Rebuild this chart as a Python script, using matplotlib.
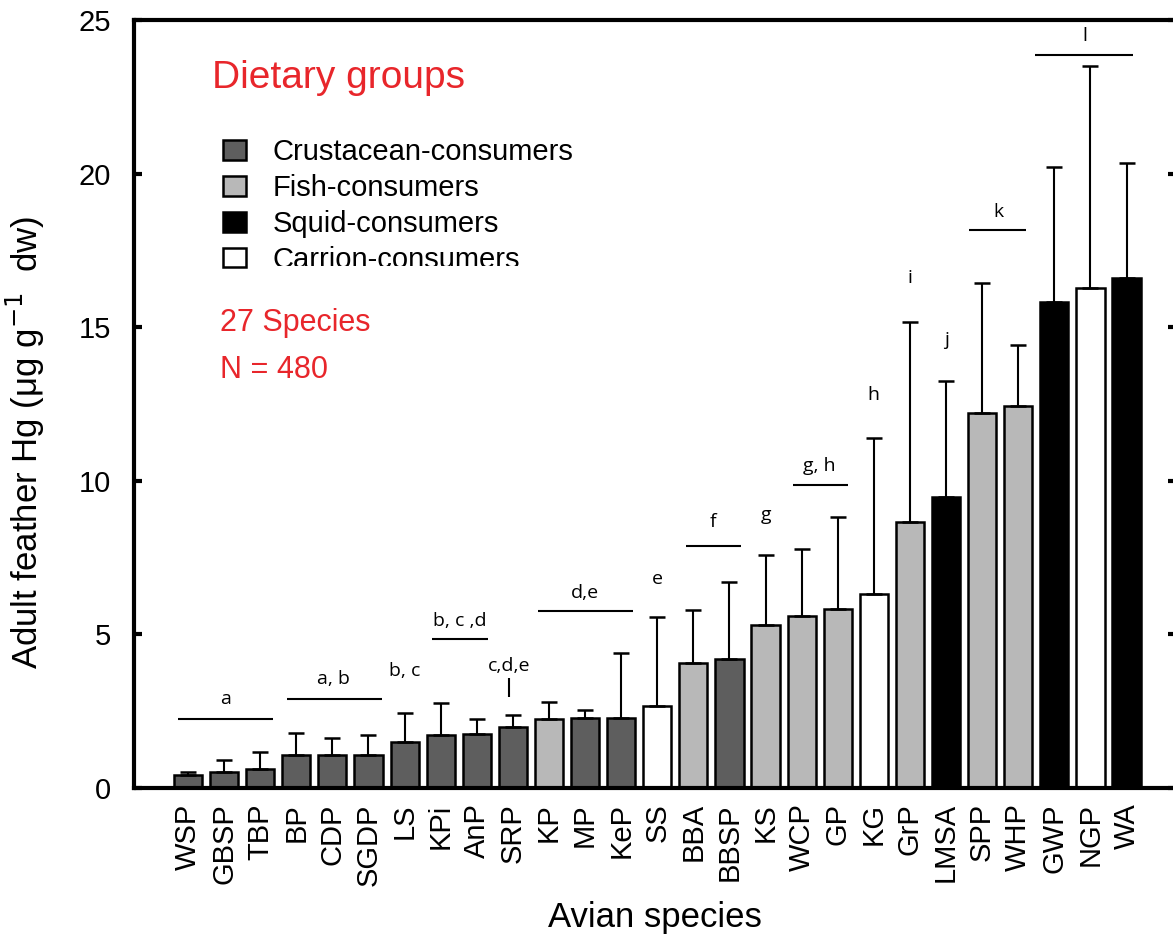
import matplotlib
matplotlib.use('Agg')
import matplotlib.pyplot as plt
from matplotlib.patches import Patch
from matplotlib.transforms import Bbox
import numpy as np

# ---------------- data ----------------
species = ['WSP', 'GBSP', 'TBP', 'BP', 'CDP', 'SGDP', 'LS', 'KPi', 'AnP', 'SRP',
           'KP', 'MP', 'KeP', 'SS', 'BBA', 'BBSP', 'KS', 'WCP', 'GP', 'KG',
           'GrP', 'LMSA', 'SPP', 'WHP', 'GWP', 'NGP', 'WA']
hg_mean = [0.42, 0.51, 0.62, 1.07, 1.07, 1.07, 1.50, 1.72, 1.75, 1.99,
           2.23, 2.28, 2.28, 2.67, 4.06, 4.21, 5.31, 5.60, 5.82, 6.31,
           8.66, 9.47, 12.20, 12.45, 15.82, 16.27, 16.61]
hg_sd = [0.11, 0.41, 0.56, 0.73, 0.55, 0.67, 0.95, 1.05, 0.48, 0.40,
         0.57, 0.27, 2.10, 2.89, 1.75, 2.49, 2.29, 2.17, 3.00, 5.08,
         6.51, 3.78, 4.23, 1.96, 4.41, 7.24, 3.72]
diet = ['C', 'C', 'C', 'C', 'C', 'C', 'C', 'C', 'C', 'C',
        'F', 'C', 'C', 'R', 'F', 'C', 'F', 'F', 'F', 'R',
        'F', 'S', 'F', 'F', 'S', 'R', 'S']
group_codes = ['C', 'F', 'S', 'R']
group_names = ['Crustacean-consumers', 'Fish-consumers', 'Squid-consumers', 'Carrion-consumers']
group_colors = {'C': '#5e5e5e', 'F': '#b8b8b8', 'S': '#000000', 'R': '#ffffff'}

# significance annotations: (x_start, x_end, y) lines and (x, y, label) texts
sig_lines = [(-0.28, 2.35, 2.25), (2.74, 5.37, 2.91), (6.76, 8.31, 4.84),
             (9.70, 12.33, 5.76), (13.80, 15.32, 7.89), (16.76, 18.28, 9.87),
             (21.63, 23.21, 18.16), (23.46, 26.18, 23.85)]
sig_vlines = [(8.89, 2.95, 3.57)]
sig_texts = [(1.05, 2.89, 'a'), (4.02, 3.54, 'a, b'), (6.0, 3.81, 'b, c'),
             (7.53, 5.45, 'b, c ,d'), (8.89, 3.96, 'c,d,e'), (11.0, 6.36, 'd,e'),
             (13.0, 6.79, 'e'), (14.54, 8.67, 'f'), (16.0, 8.90, 'g'),
             (17.5, 10.49, 'g, h'), (19.0, 12.79, 'h'), (20.0, 16.59, 'i'),
             (21.0, 14.58, 'j'), (22.44, 18.74, 'k'), (24.85, 24.48, 'l')]

# ---------------- figure ----------------
plt.rcParams['font.family'] = ['Liberation Sans', 'DejaVu Sans']
W, H = 1173, 940
fig = plt.figure(figsize=(W / 100, H / 100), dpi=100)
ax = fig.add_axes([133.5 / W, 1 - 788 / H, (1176 - 133.5) / W, (788 - 20) / H])

x = np.arange(len(species))
colors = [group_colors[d] for d in diet]
ax.bar(x, hg_mean, width=0.78, color=colors, edgecolor='black', linewidth=1.8, zorder=2)
ax.errorbar(x, hg_mean, yerr=[np.zeros(len(hg_sd)), hg_sd], fmt='none', ecolor='black',
            elinewidth=1.5, capsize=5.5, capthick=1.8, zorder=3)

for x0, x1, yy in sig_lines:
    ax.plot([x0, x1], [yy, yy], color='black', lw=1.5, solid_capstyle='butt', zorder=4)
for xx, y0, y1 in sig_vlines:
    ax.plot([xx, xx], [y0, y1], color='black', lw=1.5, solid_capstyle='butt', zorder=4)
for xx, yy, lab in sig_texts:
    ax.text(xx, yy, lab, ha='center', va='center', fontsize=14,
            family=['Open Sans', 'DejaVu Sans'], color='black', zorder=5)

ax.set_xlim(-1.51, 27.37)
ax.set_ylim(0, 25)
ax.set_yticks([0, 5, 10, 15, 20, 25])
ax.set_xticks(x)
ax.set_xticklabels(species, rotation=90)
for s in ax.spines.values():
    s.set_linewidth(3)
ax.tick_params(axis='y', direction='in', length=6, width=3, right=True, labelsize=21, pad=16)
ax.tick_params(axis='x', length=0, labelsize=21, pad=11)

ax.set_xlabel('Avian species', fontsize=25, labelpad=11)
ax.set_ylabel(r'Adult feather Hg (μg g$^{-1}$  dw)', fontsize=25)
ax.yaxis.set_label_coords(-0.083, 0.45)

# annotation texts
ax.text(0.0753, 0.9245, 'Dietary groups', transform=ax.transAxes, color='#e8262b',
        fontsize=28, ha='left', va='center')
ax.text(0.083, 0.6055, '27 Species', transform=ax.transAxes, color='#e8262b',
        fontsize=22, ha='left', va='center')
ax.text(0.083, 0.544, 'N = 480', transform=ax.transAxes, color='#e8262b',
        fontsize=22, ha='left', va='center')

handles = [Patch(facecolor=group_colors[c], edgecolor='black', linewidth=1.8) for c in group_codes]
leg = ax.legend(handles, group_names, loc='upper left', bbox_to_anchor=(0.0859, 0.846),
                frameon=False, fontsize=21, handlelength=0.8, handleheight=0.66,
                handletextpad=0.9, labelspacing=0.27, borderpad=0, borderaxespad=0)
last = leg.get_texts()[-1]
last.set_clip_on(True)
last.set_clip_box(Bbox([[0, H - 266], [W, H]]))

fig.savefig('out.png', dpi=100)
